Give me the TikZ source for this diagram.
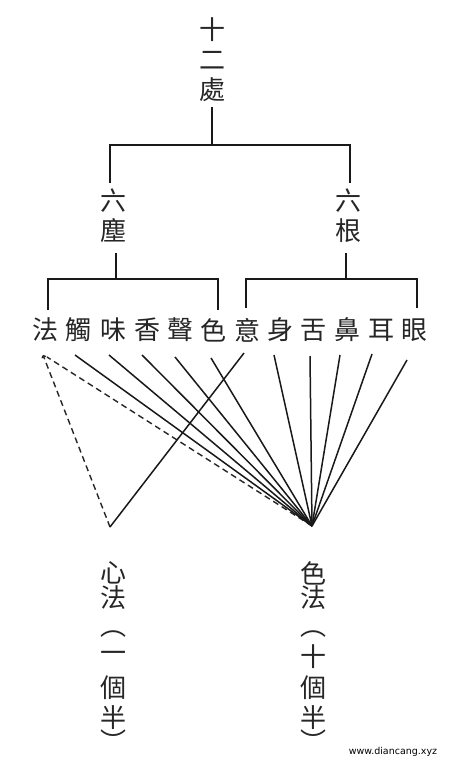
\documentclass[tikz,border=0pt]{standalone}
\usepackage{fontspec}
\newfontfamily\cjk{Noto Sans CJK TC}
\setsansfont{DejaVu Sans}
\usetikzlibrary{arrows.meta}
\begin{document}
\begin{tikzpicture}[x=1pt,y=-1pt,
  ch/.style={font=\cjk\fontsize{26}{26}\selectfont, inner sep=0pt, text=black!85},
  ln/.style={line width=1.5pt, black!90},
  dl/.style={line width=1.4pt, black!85, dash pattern=on 6pt off 4pt}]
\useasboundingbox[fill=white] (0,0) rectangle (453,773);
% title
\node[ch] (t1) at (212,30) {十};
\node[ch] (t2) at (212,60) {二};
\node[ch] (t3) at (212,90) {處};
% second level
\node[ch] (a1) at (113,201) {六};
\node[ch] (a2) at (113,231) {塵};
\node[ch] (b1) at (348,201) {六};
\node[ch] (b2) at (348,231) {根};
% row
\foreach \n/\x/\c in {1/45/法,2/78/觸,3/113/味,4/147/香,5/180/聲,6/213/色,7/247/意,8/280/身,9/313/舌,10/347/鼻,11/381/耳,12/414/眼}
  \node[ch] (c\n) at (\x,330) {\c};
% bracket coordinates
\coordinate (tb) at (212,107);
\coordinate (tj) at (212,145);
\coordinate (tl) at (110,145);
\coordinate (tr) at (350,145);
\coordinate (tld) at (110,183);
\coordinate (trd) at (350,183);
\coordinate (ab) at (116,253);
\coordinate (aj) at (116,279);
\coordinate (al) at (48,279);
\coordinate (ar) at (218,279);
\coordinate (ald) at (48,310);
\coordinate (ard) at (218,310);
\coordinate (bb) at (346,253);
\coordinate (bj) at (346,279);
\coordinate (bl) at (246,279);
\coordinate (br) at (417,279);
\coordinate (bld) at (246,308);
\coordinate (brd) at (417,308);
\draw[ln] (tb) -- (tj);
\draw[ln] (tld) -- (tl) -- (tr) -- (trd);
\draw[ln] (ab) -- (aj);
\draw[ln] (ald) -- (al) -- (ar) -- (ard);
\draw[ln] (bb) -- (bj);
\draw[ln] (bld) -- (bl) -- (br) -- (brd);
% convergence points
\coordinate (P) at (110,527);
\coordinate (Q) at (312,526);
% line starts
\coordinate (s1) at (43,355);
\coordinate (s1b) at (47,357);
\coordinate (s2) at (75,355);
\coordinate (s3) at (109,355);
\coordinate (s4) at (142,355);
\coordinate (s5) at (175,357);
\coordinate (s6) at (211,358);
\coordinate (s7) at (244,353);
\coordinate (s8) at (274,355);
\coordinate (s9) at (310,356);
\coordinate (s10) at (340,355);
\coordinate (s11) at (372,354);
\coordinate (s12) at (407,360);
\draw[dl,-{To[length=3pt,width=5pt]}] (P) -- (s1);
\draw[dl] (Q) -- (s1b);
\foreach \n in {2,3,4,5,6,8,9,10,11,12}
  \draw[ln] (s\n) -- (Q);
\draw[ln] (s7) -- (P);
% bottom labels
\foreach \n/\y/\c in {1/573/心,2/598/法,3/634/︵,4/657/一,5/688/個,6/718/半,7/741/︶}
  \node[ch] (m\n) at (113,\y) {\c};
\foreach \n/\y/\c in {1/573/色,2/598/法,3/634/︵,4/657/十,5/688/個,6/718/半,7/741/︶}
  \node[ch] (r\n) at (313,\y) {\c};
\node[font=\sffamily\fontsize{9.5}{10}\selectfont, inner sep=0pt] (wm) at (393,752) {www.diancang.xyz};
\end{tikzpicture}
\end{document}
